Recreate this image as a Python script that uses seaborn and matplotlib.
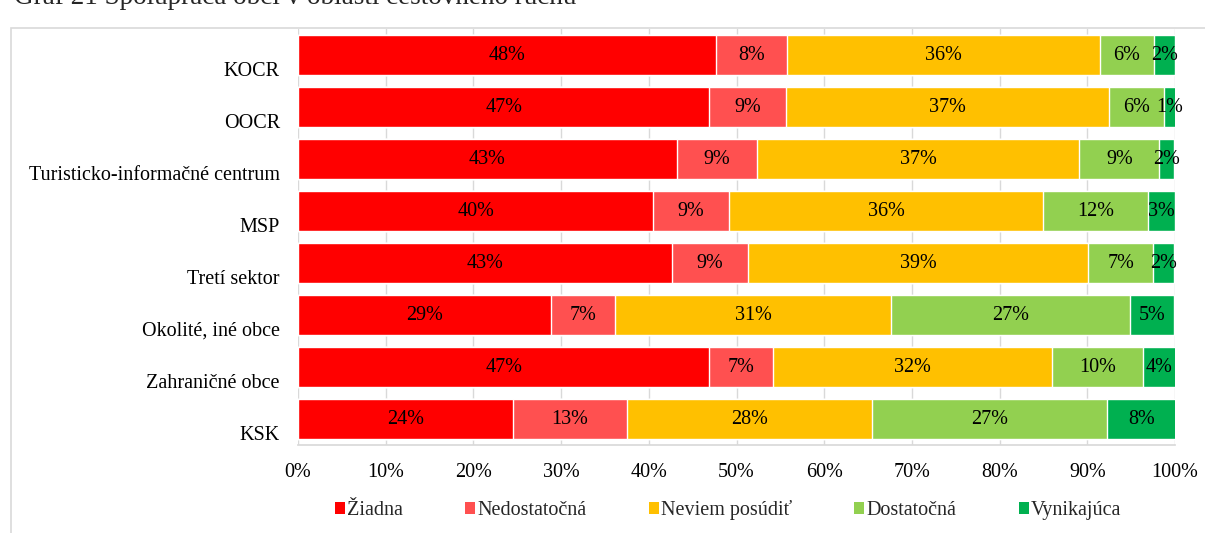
import numpy as np
import pandas as pd
import matplotlib
matplotlib.use('Agg')
import matplotlib.pyplot as plt
import matplotlib.transforms as mtransforms
from matplotlib.patches import Patch, Rectangle
import seaborn as sns

sns.set_theme(style='white')
plt.rcParams['font.family'] = ['Liberation Serif', 'DejaVu Serif']

# categories, top to bottom
categories = ['KOCR', 'OOCR', 'Turisticko-informačné centrum', 'MSP',
              'Tretí sektor', 'Okolité, iné obce', 'Zahraničné obce', 'KSK']
series = ['Žiadna', 'Nedostatočná', 'Neviem posúdiť', 'Dostatočná', 'Vynikajúca']
colors = ['#FF0000', '#FF5050', '#FFC000', '#92D050', '#00B050']

ziadna = [47.7, 46.9, 43.2, 40.5, 42.6, 28.8, 46.9, 24.5]
nedostatocna = [8.1, 8.8, 9.1, 8.6, 8.7, 7.4, 7.3, 13.0]
neviem = [35.6, 36.8, 36.8, 35.9, 38.8, 31.4, 31.8, 28.0]
dostatocna = [6.2, 6.2, 9.1, 11.9, 7.4, 27.3, 10.3, 26.8]
vynikajuca = [2.4, 1.4, 1.7, 3.1, 2.4, 5.0, 3.8, 7.8]

df = pd.DataFrame({'kategoria': categories, 'Žiadna': ziadna,
                   'Nedostatočná': nedostatocna, 'Neviem posúdiť': neviem,
                   'Dostatočná': dostatocna, 'Vynikajúca': vynikajuca})
cum = df[series].cumsum(axis=1)

fs = 14.5
fig = plt.figure(figsize=(12.05, 5.33), dpi=100)
ax = fig.add_axes([298 / 1205, 1 - 445 / 533, 877 / 1205, 416 / 533])

# stacked bars: draw cumulative totals from the largest down
for s, c in reversed(list(zip(series, colors))):
    sns.barplot(x=cum[s], y=df['kategoria'], orient='h', color=c,
                width=0.77, saturation=1, ax=ax, zorder=2)

# percentage labels in the middle of each segment
for i in range(len(categories)):
    left = 0
    for s in series:
        v = df.loc[i, s]
        ax.text(left + v / 2, i, f'{v:.0f}%', ha='center', va='center',
                fontsize=fs, color='black', clip_on=False, zorder=3)
        left += v

ax.set_xlim(0, 100)
ax.set_ylim(7.5, -0.5)
ax.set_xticks(np.arange(0, 101, 10))
ax.set_xticklabels([f'{t}%' for t in range(0, 101, 10)], fontsize=fs)
ax.set_xlabel('')
ax.set_ylabel('')
ax.tick_params(axis='both', length=0, colors='black')
ax.tick_params(axis='x', pad=13)
ax.tick_params(axis='y', pad=13)
for lab in ax.get_yticklabels():
    lab.set_fontsize(fs)
    lab.set_transform(lab.get_transform() +
                      mtransforms.ScaledTranslation(0, -0.14, fig.dpi_scale_trans))

ax.grid(axis='x', color='#D9D9D9', linewidth=1, zorder=0)
ax.set_axisbelow(True)
for side in ['left', 'right', 'top']:
    ax.spines[side].set_visible(False)
ax.spines['bottom'].set_color('#D9D9D9')

handles = [Patch(facecolor=c, edgecolor='none', label=s) for s, c in zip(series, colors)]
fig.legend(handles=handles, loc='center', bbox_to_anchor=(0.604, 1 - 510 / 533),
           ncol=5, frameon=False, fontsize=fs, handlelength=0.5,
           handleheight=0.5, handletextpad=0.1, columnspacing=3.1)

# outer chart frame and cut-off caption above it
fig.patches.append(Rectangle((11 / 1205, -0.02), 1.0, 1.02 - 28 / 533,
                             transform=fig.transFigure, fill=False,
                             edgecolor='#D9D9D9', linewidth=1.2))
fig.text(14 / 1205, 1 - 4 / 533, 'Graf 21 Spolupráca obcí v oblasti cestovného ruchu',
         ha='left', va='baseline', fontsize=19.5)

fig.savefig('out.png', dpi=100)
